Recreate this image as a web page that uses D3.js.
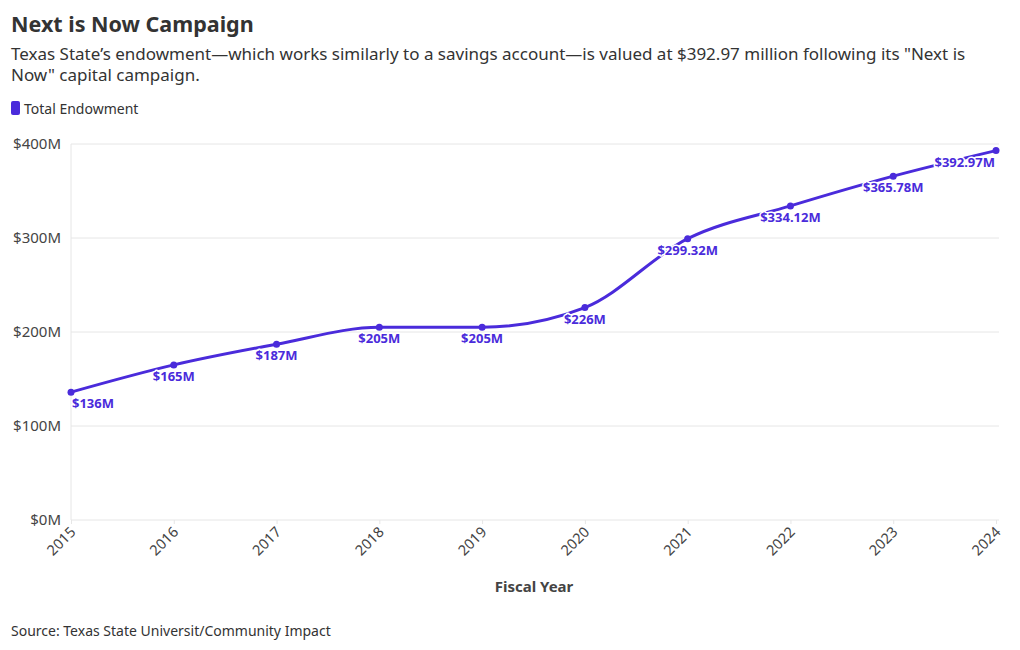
<!DOCTYPE html>
<html><head><meta charset="utf-8">
<script src="https://cdn.jsdelivr.net/npm/d3@7"></script>
<style>
body{margin:0;background:#fff;}
svg text{font-family:"Noto Sans",sans-serif;}
</style></head>
<body><svg id="c" width="1020" height="650"></svg>
<script>
const years = [2015,2016,2017,2018,2019,2020,2021,2022,2023,2024];
const endowment = [136,165,187,205,205,226,299.32,334.12,365.78,392.97];
const valueLabels = ["$136M","$165M","$187M","$205M","$205M","$226M","$299.32M","$334.12M","$365.78M","$392.97M"];
const yTicks = [0,100,200,300,400];
const yTickLabels = ["$0M","$100M","$200M","$300M","$400M"];

const color = "#4a2bdb";
const svg = d3.select("#c");
const x = d3.scaleLinear().domain([2015,2024]).range([71,996]);
const y = d3.scaleLinear().domain([0,400]).range([520,144]);

svg.append("text").attr("x",11).attr("y",32).attr("font-size",21.5).attr("font-weight",700).attr("fill","#333").text("Next is Now Campaign");
const sub = svg.append("text").attr("font-size",17).attr("fill","#333");
sub.append("tspan").attr("x",11).attr("y",60).text("Texas State\u2019s endowment\u2014which works similarly to a savings account\u2014is valued at $392.97 million following its \"Next is");
sub.append("tspan").attr("x",11).attr("y",81).text("Now\" capital campaign.");

svg.append("rect").attr("x",11).attr("y",101).attr("width",9).attr("height",14).attr("rx",2).attr("fill",color);
svg.append("text").attr("x",24).attr("y",114).attr("font-size",14).attr("fill","#333").text("Total Endowment");

// grid
const g = svg.append("g");
g.selectAll("line.grid").data(yTicks).join("line")
  .attr("x1",71).attr("x2",999).attr("y1",d=>y(d)).attr("y2",d=>y(d))
  .attr("stroke","#e6e6e6").attr("stroke-width",1);
g.append("line").attr("x1",71).attr("x2",71).attr("y1",y(400)).attr("y2",y(0)).attr("stroke","#e6e6e6");

const yAxis = d3.axisLeft(y).tickValues(yTicks).tickFormat((d,i)=>yTickLabels[i]).tickSize(0).tickPadding(10);
const ya = svg.append("g").attr("transform","translate(71,0)").call(yAxis);
ya.select(".domain").remove();
ya.selectAll("text").attr("font-size",15).attr("fill","#444").attr("font-family","Noto Sans, sans-serif");

const xAxis = d3.axisBottom(x).tickValues(years).tickFormat(d3.format("d")).tickSize(4);
const xa = svg.append("g").attr("transform","translate(0,520)").call(xAxis);
xa.select(".domain").remove();
xa.selectAll(".tick line").attr("stroke","#e6e6e6");
xa.selectAll("text").attr("font-size",14.5).attr("fill","#444").attr("font-family","Liberation Sans, sans-serif")
  .attr("text-anchor","end").attr("dy",0).attr("y",0)
  .attr("transform","translate(5,13) rotate(-45)");

svg.append("text").attr("x",534).attr("y",592).attr("text-anchor","middle").attr("font-size",15).attr("font-weight",700).attr("fill","#444").text("Fiscal Year");
svg.append("text").attr("x",11).attr("y",636).attr("font-size",14).attr("fill","#333").text("Source: Texas State Universit/Community Impact");

const line = d3.line().x((d,i)=>x(years[i])).y(d=>y(d)).curve(d3.curveMonotoneX);
svg.append("path").datum(endowment).attr("d",line).attr("fill","none").attr("stroke",color).attr("stroke-width",3);
svg.selectAll("circle.pt").data(endowment).join("circle")
  .attr("cx",(d,i)=>x(years[i])).attr("cy",d=>y(d)).attr("r",3.5).attr("fill",color);

const n = endowment.length;
const labs = svg.selectAll("g.lab").data(endowment).join("g");
const addText = (sel, halo) => sel.append("text")
  .attr("x",(d,i)=>x(years[i]) + (i===0?1:(i===n-1?-1:0)))
  .attr("y",d=>y(d)+16)
  .attr("text-anchor",(d,i)=>i===0?"start":(i===n-1?"end":"middle"))
  .attr("font-size",13).attr("font-weight",700)
  .attr("fill",halo?"none":color)
  .attr("stroke",halo?"#fff":"none").attr("stroke-width",halo?3:0).attr("stroke-linejoin","round")
  .text((d,i)=>valueLabels[i]);
addText(labs,true);
addText(labs,false);
</script></body></html>
